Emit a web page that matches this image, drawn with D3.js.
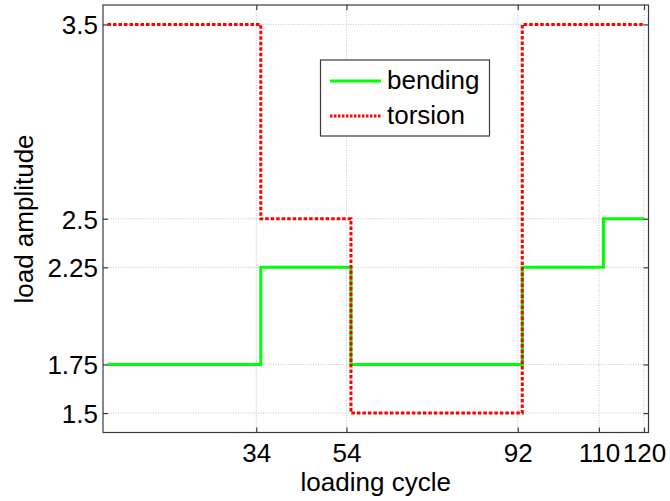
<!DOCTYPE html>
<html>
<head>
<meta charset="utf-8">
<script src="https://cdn.jsdelivr.net/npm/d3@7"></script>
<style>
  html, body { margin: 0; padding: 0; background: #fff; }
  svg { display: block; font-family: "Liberation Sans", Arial, sans-serif; }
</style>
</head>
<body>
<svg id="chart" width="670" height="501"></svg>
<script>
// Loading programme: cycle at which each load block starts, and the last cycle
const blockStarts = [1, 35, 55, 93, 111];
const lastCycle = 120;
const bendingAmp = [1.75, 2.25, 1.75, 2.25, 2.5];
const torsionAmp = [3.5, 2.5, 1.5, 3.5, 3.5];

// Axis ticks
const xTicks = [34, 54, 92, 110, 120];
const yTicks = [1.5, 1.75, 2.25, 2.5, 3.5];

const series = [
  { name: "bending", values: bendingAmp, color: "#00ff00", dash: null },
  { name: "torsion", values: torsionAmp, color: "#ff0000", dash: "3.5,2" }
];

const svg = d3.select("#chart");
const plotL = 103, plotR = 648.5, plotT = 5, plotB = 432.5;

const x = d3.scaleLinear().domain([0, 121]).range([plotL, plotR]);
const y = d3.scaleLinear().domain([1.4, 3.6]).range([plotB, plotT]);

const axisColor = "#3a3a3a";
const fontSize = 26;

// Grid lines
const grid = svg.append("g");
grid.selectAll("line.gx").data(xTicks).join("line")
  .attr("x1", d => x(d)).attr("x2", d => x(d))
  .attr("y1", plotT).attr("y2", plotB)
  .attr("stroke", "#c4c4c4").attr("stroke-width", 1).attr("stroke-dasharray", "1,1.5");
grid.selectAll("line.gy").data(yTicks).join("line")
  .attr("x1", plotL).attr("x2", plotR)
  .attr("y1", d => y(d)).attr("y2", d => y(d))
  .attr("stroke", "#c4c4c4").attr("stroke-width", 1).attr("stroke-dasharray", "1,1.5");

// Stepped load histories
const stepPoints = vals => {
  const pts = blockStarts.map((c, i) => [c, vals[i]]);
  pts.push([lastCycle, vals[vals.length - 1]]);
  return pts;
};
const line = d3.line().x(d => x(d[0])).y(d => y(d[1])).curve(d3.curveStepAfter);

svg.append("g").selectAll("path").data(series).join("path")
  .attr("d", s => line(stepPoints(s.values)))
  .attr("fill", "none")
  .attr("stroke", s => s.color)
  .attr("stroke-width", 3)
  .attr("stroke-dasharray", s => s.dash)
  .attr("stroke-linejoin", "miter");

// Axes (inward ticks on all four sides, labels bottom and left)
const tickLen = 5;
const xAxisB = d3.axisBottom(x).tickValues(xTicks).tickSizeInner(-tickLen).tickSizeOuter(0).tickPadding(12);
const xAxisT = d3.axisTop(x).tickValues(xTicks).tickSizeInner(-tickLen).tickSizeOuter(0).tickFormat("");
const yAxisL = d3.axisLeft(y).tickValues(yTicks).tickSizeInner(-tickLen).tickSizeOuter(0).tickPadding(6).tickFormat(d3.format("~g"));
const yAxisR = d3.axisRight(y).tickValues(yTicks).tickSizeInner(-tickLen).tickSizeOuter(0).tickFormat("");

function styleAxis(g) {
  g.select(".domain").remove();
  g.selectAll(".tick line").attr("stroke", axisColor).attr("stroke-width", 1.2);
  g.selectAll(".tick text").attr("fill", "#000").style("font-size", fontSize + "px")
    .style("font-family", '"Liberation Sans", Arial, sans-serif');
}

const gxB = svg.append("g").attr("transform", `translate(0,${plotB})`).call(xAxisB).call(styleAxis);
gxB.selectAll(".tick text").attr("dy", null).attr("y", 29);
svg.append("g").attr("transform", `translate(0,${plotT})`).call(xAxisT).call(styleAxis);
const gyL = svg.append("g").attr("transform", `translate(${plotL},0)`).call(yAxisL).call(styleAxis);
gyL.selectAll(".tick text").attr("dy", null).attr("y", 9.5).attr("x", -5);
svg.append("g").attr("transform", `translate(${plotR},0)`).call(yAxisR).call(styleAxis);

// Axes box
svg.append("rect")
  .attr("x", plotL).attr("y", plotT)
  .attr("width", plotR - plotL).attr("height", plotB - plotT)
  .attr("fill", "none").attr("stroke", axisColor).attr("stroke-width", 1.2);

// Axis titles
svg.append("text")
  .attr("x", (plotL + plotR) / 2).attr("y", 491)
  .attr("text-anchor", "middle")
  .style("font-size", fontSize + "px")
  .text("loading cycle");
svg.append("text")
  .attr("transform", `translate(33,219) rotate(-90)`)
  .attr("text-anchor", "middle")
  .style("font-size", fontSize + "px")
  .text("load amplitude");

// Legend
const legend = svg.append("g");
legend.append("rect")
  .attr("x", 320.5).attr("y", 60).attr("width", 169).attr("height", 76)
  .attr("fill", "#fff").attr("stroke", axisColor).attr("stroke-width", 1.2);
const rowY = [81, 116];
const rows = legend.selectAll("g.row").data(series).join("g")
  .attr("transform", (d, i) => `translate(0,${rowY[i]})`);
rows.append("line")
  .attr("x1", 330).attr("x2", 381).attr("y1", 0).attr("y2", 0)
  .attr("stroke", d => d.color).attr("stroke-width", 3)
  .attr("stroke-dasharray", d => d.dash ? "2.5,1.5" : null);
rows.append("text")
  .attr("x", 387).attr("y", 7.5)
  .style("font-size", fontSize + "px")
  .text(d => d.name);
</script>
</body>
</html>
